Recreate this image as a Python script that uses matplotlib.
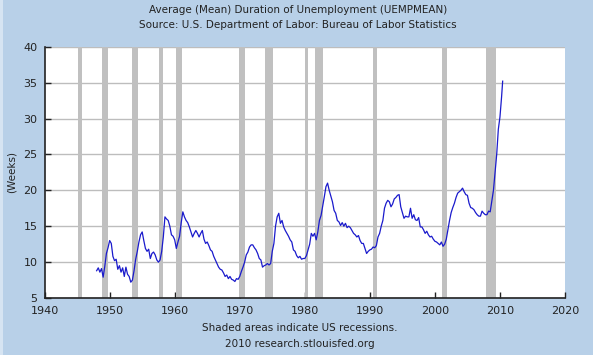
import matplotlib
matplotlib.use("Agg")
import matplotlib.pyplot as plt
import numpy as np
import pandas as pd

# quarterly readings (Jan, Apr, Jul, Oct), 1948 -> 2009, then 2010 points
weeks_by_year = {
    1948: [8.8, 9.2, 8.6, 9.1],
    1949: [7.9, 9.4, 11.2, 12.0],
    1950: [13.0, 12.6, 10.8, 10.2],
    1951: [10.4, 9.0, 9.5, 8.6],
    1952: [9.2, 8.0, 9.3, 8.3],
    1953: [8.0, 7.2, 7.5, 8.8],
    1954: [10.4, 11.5, 12.8, 13.8],
    1955: [14.2, 13.0, 11.9, 11.5],
    1956: [11.8, 10.5, 11.2, 11.4],
    1957: [11.0, 10.3, 10.0, 10.3],
    1958: [11.5, 13.5, 16.3, 16.0],
    1959: [15.8, 15.0, 13.8, 13.6],
    1960: [13.1, 11.9, 12.8, 13.6],
    1961: [15.5, 17.0, 16.3, 15.8],
    1962: [15.5, 14.9, 14.2, 13.5],
    1963: [14.0, 14.4, 14.0, 13.5],
    1964: [14.0, 14.4, 13.2, 12.6],
    1965: [12.8, 12.3, 11.7, 11.5],
    1966: [10.8, 10.3, 9.8, 9.3],
    1967: [9.0, 8.9, 8.5, 8.0],
    1968: [8.2, 7.7, 8.0, 7.6],
    1969: [7.5, 7.3, 7.7, 7.6],
    1970: [8.0, 8.7, 9.3, 10.0],
    1971: [11.0, 11.4, 12.1, 12.4],
    1972: [12.4, 12.0, 11.7, 11.2],
    1973: [10.5, 10.3, 9.3, 9.5],
    1974: [9.6, 9.8, 9.6, 9.8],
    1975: [11.5, 12.6, 15.0, 16.3],
    1976: [16.8, 15.4, 15.8, 14.9],
    1977: [14.4, 14.0, 13.6, 13.1],
    1978: [12.8, 11.7, 11.5, 10.9],
    1979: [10.6, 10.8, 10.4, 10.5],
    1980: [10.5, 10.9, 11.7, 12.5],
    1981: [14.0, 13.6, 14.0, 13.1],
    1982: [14.2, 15.8, 16.5, 17.8],
    1983: [19.1, 20.5, 21.0, 20.0],
    1984: [19.2, 18.4, 17.2, 16.8],
    1985: [15.8, 15.6, 15.1, 15.5],
    1986: [15.0, 15.4, 14.8, 15.0],
    1987: [14.8, 14.4, 14.0, 13.8],
    1988: [13.5, 13.7, 13.0, 12.6],
    1989: [12.6, 11.9, 11.2, 11.5],
    1990: [11.7, 11.8, 12.1, 12.0],
    1991: [12.3, 13.5, 14.0, 15.0],
    1992: [15.8, 17.5, 18.2, 18.6],
    1993: [18.4, 17.7, 18.1, 18.8],
    1994: [19.0, 19.3, 19.4, 17.7],
    1995: [16.9, 16.1, 16.4, 16.3],
    1996: [16.3, 17.5, 16.1, 16.6],
    1997: [15.9, 15.8, 16.2, 14.9],
    1998: [14.9, 14.5, 14.0, 14.3],
    1999: [13.8, 13.5, 13.6, 13.2],
    2000: [12.9, 12.8, 12.6, 12.4],
    2001: [12.8, 12.2, 12.5, 13.2],
    2002: [14.5, 15.8, 16.9, 17.6],
    2003: [18.2, 19.0, 19.6, 19.8],
    2004: [20.0, 20.3, 19.8, 19.4],
    2005: [19.3, 18.2, 17.6, 17.5],
    2006: [17.3, 16.9, 16.6, 16.4],
    2007: [16.4, 17.1, 16.8, 16.6],
    2008: [16.6, 17.1, 17.0, 18.5],
    2009: [20.0, 22.5, 25.0, 28.5],
}
last_dates = ["2010-01-01", "2010-04-01", "2010-06-01"]
last_weeks = [30.2, 33.0, 35.2]

recession_start = ["1945-02-01", "1948-11-01", "1953-07-01", "1957-08-01", "1960-04-01",
                   "1969-12-01", "1973-11-01", "1980-01-01", "1981-07-01", "1990-07-01",
                   "2001-03-01", "2007-12-01"]
recession_end = ["1945-10-01", "1949-10-01", "1954-05-01", "1958-04-01", "1961-02-01",
                 "1970-11-01", "1975-03-01", "1980-07-01", "1982-11-01", "1991-03-01",
                 "2001-11-01", "2009-06-01"]


def to_year(d):
    d = pd.Timestamp(d)
    return d.year + (d.month - 1) / 12.0


x = []
y = []
for yr, vals in weeks_by_year.items():
    for q, v in enumerate(vals):
        x.append(yr + q * 0.25)
        y.append(v)
for d, v in zip(last_dates, last_weeks):
    x.append(to_year(d))
    y.append(v)

bg = "#B8D0E8"
fig = plt.figure(figsize=(5.93, 3.55), dpi=100, facecolor=bg)
# lighter strip on the left edge, as in the original image
fig.patches.append(plt.Rectangle((0, 0), 3 / 593, 1, transform=fig.transFigure,
                                 facecolor="#D6E4F2", lw=0))
ax = fig.add_axes([44.6 / 593, 57 / 355, (565 - 44.6) / 593, (298 - 46.7) / 355])
ax.set_facecolor("white")

for s, e in zip(recession_start, recession_end):
    ax.axvspan(to_year(s), to_year(e), color="#C0C0C0", lw=0, zorder=1)

ax.plot(x, y, color="#1A1ACC", lw=0.9, zorder=3)

ax.set_xlim(1940, 2020)
ax.set_ylim(5, 40)
ax.set_xticks(range(1940, 2021, 10))
ax.set_yticks(range(5, 41, 5))
ax.yaxis.grid(True, color="#BDBDBD", lw=1)
ax.set_axisbelow(True)
for sp in ["top", "right"]:
    ax.spines[sp].set_visible(False)
for sp in ["left", "bottom"]:
    ax.spines[sp].set_color("#222222")
    ax.spines[sp].set_linewidth(1.2)
ax.tick_params(direction="in", length=4, width=1, colors="#222222", labelsize=8)
ax.tick_params(axis="x", pad=6)
ax.tick_params(axis="y", pad=5)
ax.set_ylabel("(Weeks)", fontsize=7.5, color="#222222", labelpad=5)

fig.text(0.502, 0.972, "Average (Mean) Duration of Unemployment (UEMPMEAN)",
         ha="center", va="center", fontsize=7.5, color="#222222")
fig.text(0.502, 0.930, "Source: U.S. Department of Labor: Bureau of Labor Statistics",
         ha="center", va="center", fontsize=7.5, color="#222222")
fig.text(0.505, 0.076, "Shaded areas indicate US recessions.",
         ha="center", va="center", fontsize=7.5, color="#222222")
fig.text(0.505, 0.030, "2010 research.stlouisfed.org",
         ha="center", va="center", fontsize=7.5, color="#222222")

fig.savefig("out.png", dpi=100, facecolor=bg)
